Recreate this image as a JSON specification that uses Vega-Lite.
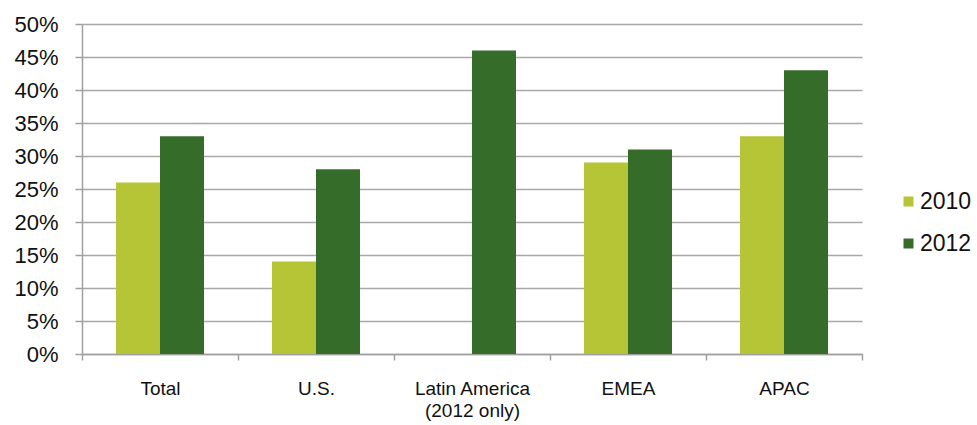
{
  "$schema": "https://vega.github.io/schema/vega-lite/v6.json",
  "width": 780,
  "height": 330,
  "autosize": {"type": "none"},
  "padding": {"left": 82, "top": 24, "right": 115, "bottom": 71},
  "background": "white",
  "data": {
    "values": [
      {"region": "Total", "year": "2010", "share": 26},
      {"region": "Total", "year": "2012", "share": 33},
      {"region": "U.S.", "year": "2010", "share": 14},
      {"region": "U.S.", "year": "2012", "share": 28},
      {"region": "Latin America", "year": "2012", "share": 46},
      {"region": "EMEA", "year": "2010", "share": 29},
      {"region": "EMEA", "year": "2012", "share": 31},
      {"region": "APAC", "year": "2010", "share": 33},
      {"region": "APAC", "year": "2012", "share": 43}
    ]
  },
  "config": {
    "view": {"stroke": null},
    "font": "Liberation Sans"
  },
  "mark": {"type": "bar"},
  "encoding": {
    "x": {
      "field": "region",
      "type": "nominal",
      "sort": ["Total", "U.S.", "Latin America", "EMEA", "APAC"],
      "scale": {"paddingInner": 0, "paddingOuter": 0},
      "axis": {
        "title": null,
        "labelAngle": 0,
        "labelFontSize": 19,
        "labelColor": "#111",
        "labelPadding": 19,
        "labelLineHeight": 22,
        "tickBand": "extent",
        "tickSize": 6,
        "tickColor": "#a0a0a0",
        "tickWidth": 1.5,
        "domainColor": "#a0a0a0",
        "domainWidth": 1.5,
        "grid": false,
        "labelExpr": "datum.value == 'Latin America' ? ['Latin America', '(2012 only)'] : datum.value"
      }
    },
    "xOffset": {
      "field": "year",
      "type": "nominal",
      "scale": {"domain": ["2010", "2012"], "paddingInner": 0, "paddingOuter": 0.773}
    },
    "y": {
      "field": "share",
      "type": "quantitative",
      "scale": {"domain": [0, 50], "nice": false},
      "axis": {
        "title": null,
        "values": [0, 5, 10, 15, 20, 25, 30, 35, 40, 45, 50],
        "labelExpr": "datum.value + '%'",
        "labelFontSize": 22,
        "labelColor": "#111",
        "labelPadding": 17,
        "tickSize": 7,
        "tickColor": "#a0a0a0",
        "tickWidth": 1.5,
        "gridColor": "#a8a8a8",
        "gridWidth": 1.5,
        "domainColor": "#a0a0a0",
        "domainWidth": 1.5
      }
    },
    "color": {
      "field": "year",
      "type": "nominal",
      "scale": {"domain": ["2010", "2012"], "range": ["#b5c535", "#356c2a"]},
      "legend": {
        "title": null,
        "orient": "none",
        "legendX": 815,
        "legendY": 166,
        "symbolType": "square",
        "symbolSize": 100,
        "symbolStrokeWidth": 0,
        "labelFontSize": 23,
        "labelColor": "#111",
        "labelOffset": 0,
        "rowPadding": 18
      }
    }
  }
}
